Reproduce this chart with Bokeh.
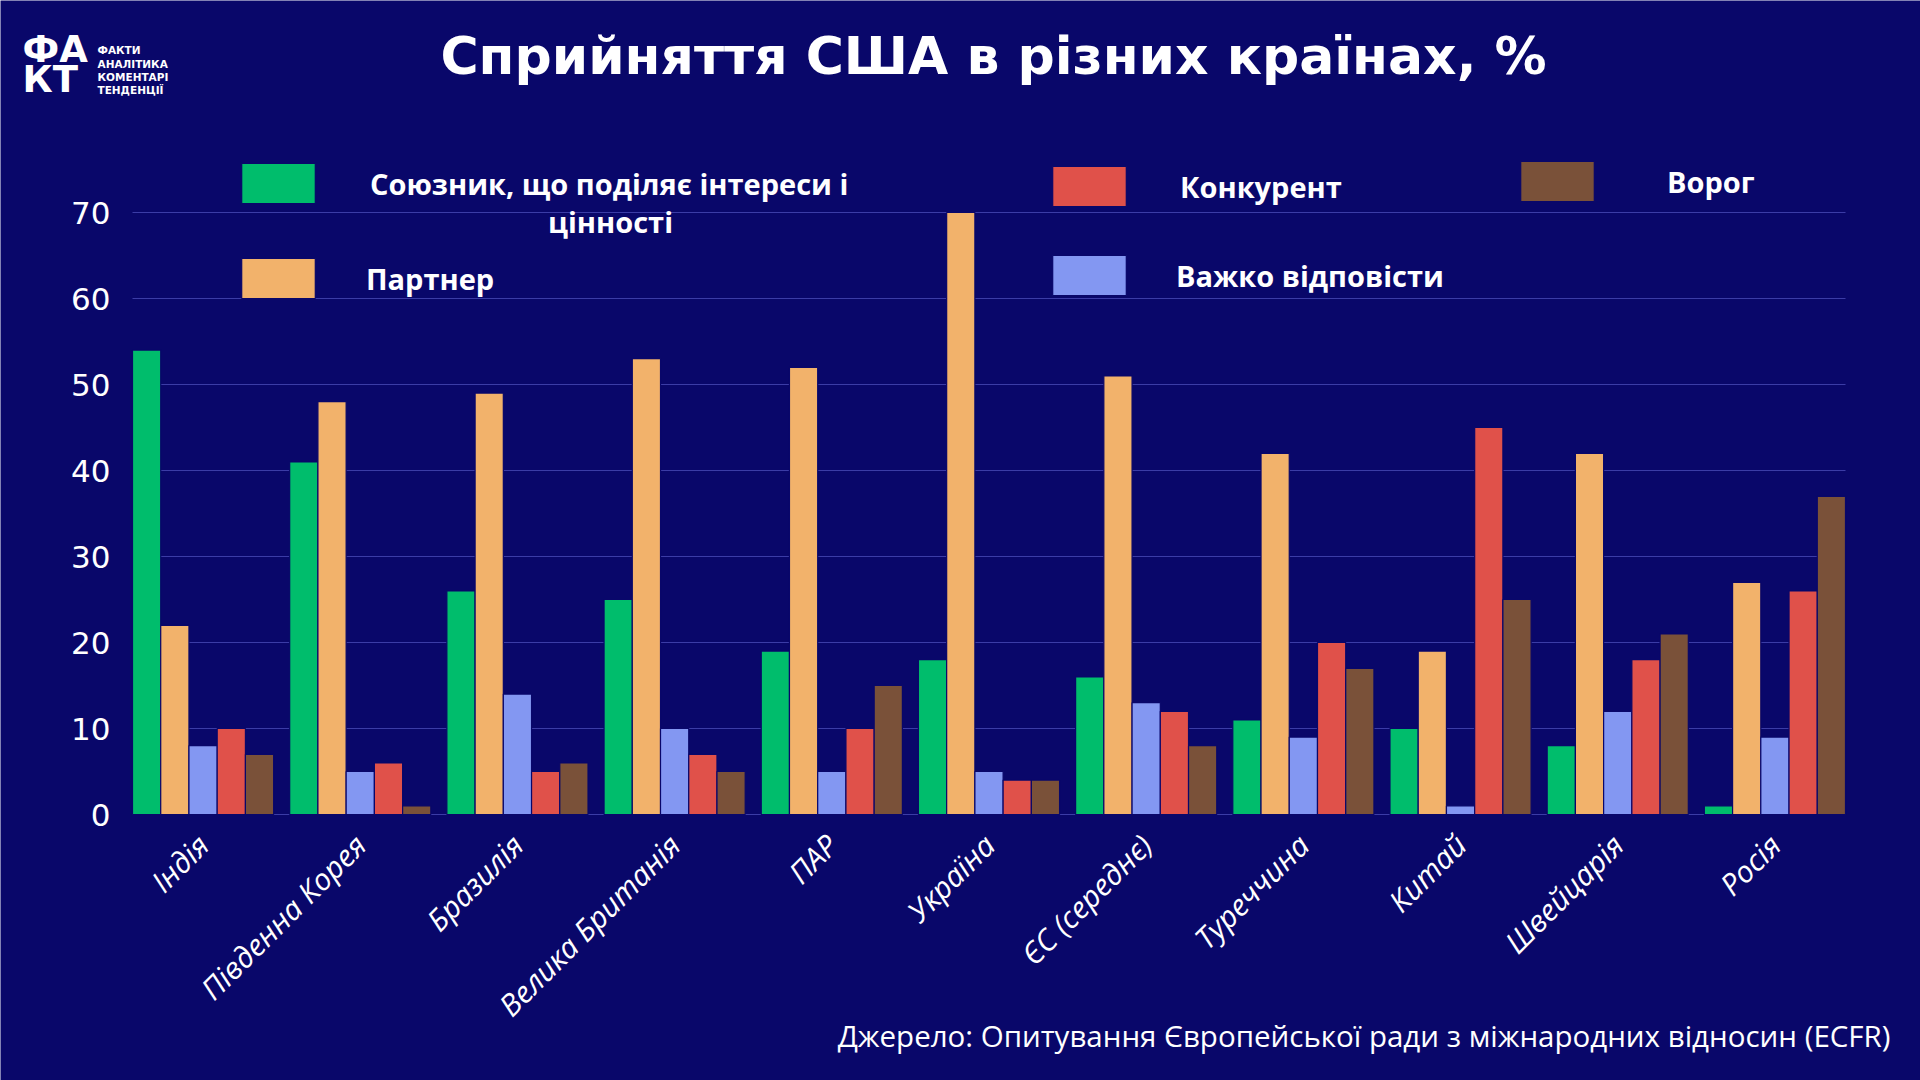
from math import pi

from bokeh.embed import file_html
from bokeh.models import (ColumnDataSource, FixedTicker, Label, Legend,
                          LegendItem, Range1d)
from bokeh.plotting import figure
from bokeh.resources import INLINE
from bokeh.transform import dodge

# --- data -----------------------------------------------------------------
countries = ["Індія", "Південна Корея", "Бразилія", "Велика Британія", "ПАР",
             "Україна", "ЄС (середнє)", "Туреччина", "Китай", "Швейцарія",
             "Росія"]
ally = [54, 41, 26, 25, 19, 18, 16, 11, 10, 8, 1]
partner = [22, 48, 49, 53, 52, 70, 51, 42, 19, 42, 27]
hard_to_say = [8, 5, 14, 10, 5, 5, 13, 9, 1, 12, 9]
competitor = [10, 6, 5, 7, 10, 4, 12, 20, 45, 18, 26]
enemy = [7, 1, 6, 5, 15, 4, 8, 17, 25, 21, 37]

series_names = ["Союзник, що поділяє інтереси і", "Партнер",
                "Важко відповісти", "Конкурент", "Ворог"]
ally_name_tail = "цінності"
y_ticks = [0, 10, 20, 30, 40, 50, 60, 70]

title_text = "Сприйняття США в різних країнах, %"
source_text = "Джерело: Опитування Європейської ради з міжнародних відносин (ECFR)"
brand_lines = ["ФАКТИ", "АНАЛІТИКА", "КОМЕНТАРІ", "ТЕНДЕНЦІЇ"]

# --- styling ----------------------------------------------------------------
BG = "#09076a"
GRID = "#3b3ca6"
COLORS = ["#00bd6c", "#f2b26b", "#8397f2", "#e0514a", "#7a5139"]
LEGEND_FONT = "Open Sans"
W, H = 1920, 1080

# Plot area in page pixels; the frame itself fills the whole canvas so that
# the headline, legend and notes can sit anywhere on it.
AREA_LEFT, AREA_RIGHT, AREA_BOTTOM = 132, 1845, 814
PX_PER_UNIT_Y = 8.6

GROUP = 0.898
SLOT = GROUP / 5
half = GROUP / 2
n = len(countries)
x_lo, x_hi = -half, n - 1 + half
px_per_unit_x = (AREA_RIGHT - AREA_LEFT) / (x_hi - x_lo)

x_range = Range1d(x_lo - AREA_LEFT / px_per_unit_x,
                  x_hi + (W - AREA_RIGHT) / px_per_unit_x)
y_range = Range1d(-(H - AREA_BOTTOM) / PX_PER_UNIT_Y, AREA_BOTTOM / PX_PER_UNIT_Y)

p = figure(width=W, height=H, output_backend="svg", toolbar_location=None,
           title=None, x_range=x_range, y_range=y_range, min_border=0)
p.background_fill_color = BG
p.border_fill_color = BG
p.outline_line_color = None
p.grid.visible = False

source = ColumnDataSource(dict(
    x=list(range(n)),
    ally=ally, partner=partner, hard=hard_to_say,
    competitor=competitor, enemy=enemy,
))
columns = ["ally", "partner", "hard", "competitor", "enemy"]

# horizontal gridlines across the bar area
p.segment(x0=[x_lo] * len(y_ticks), x1=[x_hi] * len(y_ticks), y0=y_ticks,
          y1=y_ticks, line_color=GRID, line_width=1)

renderers = []
for i, col in enumerate(columns):
    r = p.vbar(x=dodge("x", (i - 2) * SLOT, range=p.x_range), top=col,
               width=SLOT, bottom=0, source=source,
               fill_color=COLORS[i], line_color=BG, line_width=1.2)
    renderers.append(r)

# axes pinned to the bar area
p.yaxis.fixed_location = x_lo
p.yaxis.ticker = FixedTicker(ticks=y_ticks)
p.yaxis.axis_line_color = None
p.yaxis.major_tick_line_color = None
p.yaxis.minor_tick_line_color = None
p.yaxis.major_tick_out = 0
p.yaxis.major_label_standoff = 22
p.yaxis.major_label_text_color = "white"
p.yaxis.major_label_text_font = "DejaVu Sans"
p.yaxis.major_label_text_font_size = "31px"

p.xaxis.fixed_location = 0
p.xaxis.ticker = FixedTicker(ticks=list(range(n)))
p.xaxis.major_label_overrides = {i: c for i, c in enumerate(countries)}
p.xaxis.axis_line_color = None
p.xaxis.major_tick_line_color = None
p.xaxis.minor_tick_line_color = None
p.xaxis.major_tick_out = 0
p.xaxis.major_label_standoff = 25
p.xaxis.major_label_orientation = pi / 4
p.xaxis.major_label_text_color = "white"
p.xaxis.major_label_text_font = "Open Sans"
p.xaxis.major_label_text_font_style = "italic"
p.xaxis.major_label_text_font_size = "30px"

# legend: one block per entry, arranged in three columns
legend_spots = {
    0: (232, 872, 46),
    1: (232, 777, 42),
    2: (1043, 780, 41),
    3: (1043, 869, 45),
    4: (1511, 874, 64),
}
for idx, (lx, ly, standoff) in legend_spots.items():
    lg = Legend(items=[LegendItem(label=series_names[idx], renderers=[renderers[idx]])],
                location=(lx, ly), orientation="vertical",
                glyph_width=92, glyph_height=50, label_standoff=standoff,
                padding=0, margin=0, spacing=0, border_line_color=None,
                background_fill_alpha=0,
                label_text_color="white", label_text_font=LEGEND_FONT,
                label_text_font_style="bold", label_text_font_size="29px")
    p.add_layout(lg)


def page_label(x, baseline, text, size, **kw):
    """Text placed by page pixel position of its baseline (y from the top)."""
    y = baseline - 0.4 * size
    p.add_layout(Label(x=x, y=H - y, x_units="screen", y_units="screen",
                       text=text, text_color="white", text_font_size=f"{size}px",
                       text_baseline="alphabetic", **kw))


# second line of the first legend entry, centred under the first line
page_label(610, 233, ally_name_tail, 29, text_align="center",
           text_font=LEGEND_FONT, text_font_style="bold")

# headline
page_label(993, 76, title_text, 52, text_align="center", text_font="DejaVu Sans",
           text_font_style="bold")

# brand mark
page_label(22, 64, "ФА", 37, text_font="DejaVu Sans", text_font_style="bold")
page_label(22, 94, "КТ", 37, text_font="DejaVu Sans", text_font_style="bold")
for k, word in enumerate(brand_lines):
    page_label(97, 54 + k * 13.2, word, 10.5, text_font="DejaVu Sans",
               text_font_style="bold")

# source note
page_label(1890, 1047, source_text, 29.5, text_align="right", text_font="Open Sans")

open("out.html", "w").write(file_html(p, INLINE))
